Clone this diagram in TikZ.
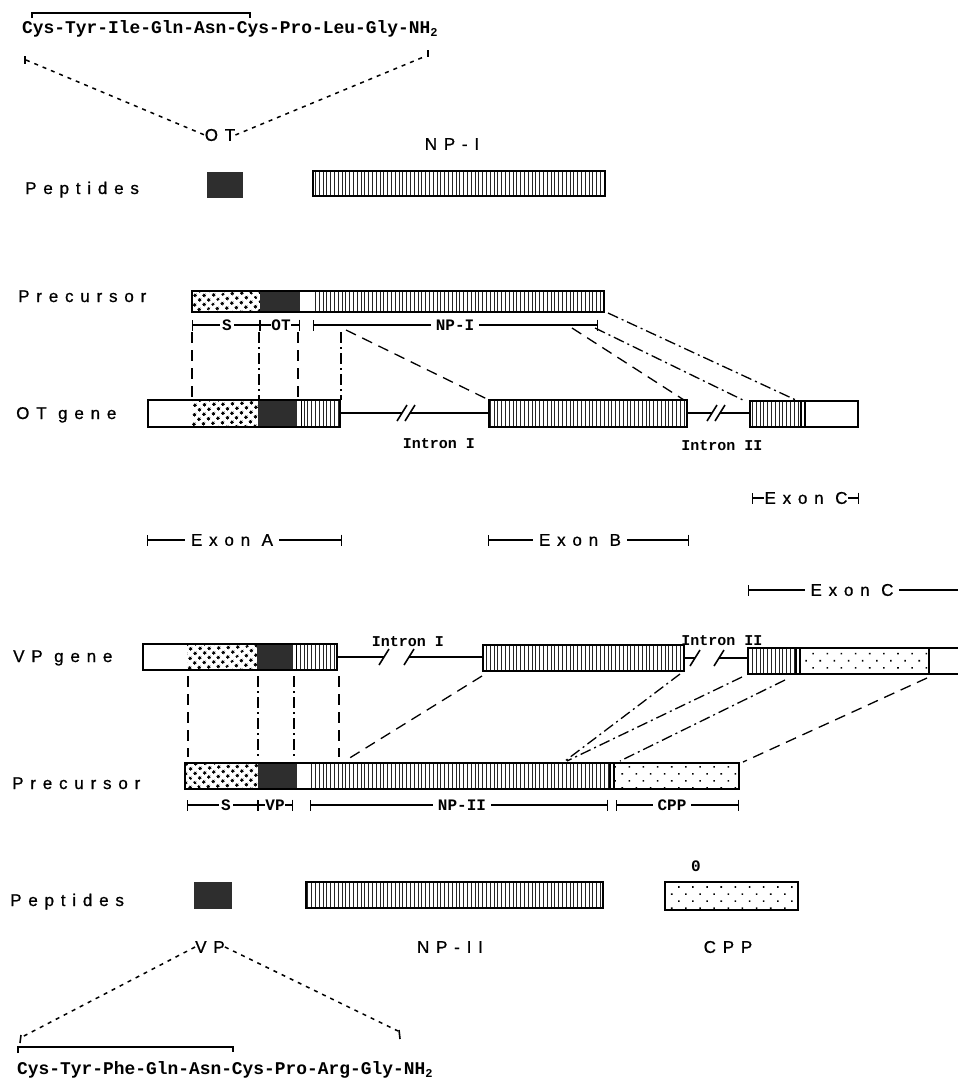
\documentclass[tikz,border=0pt]{standalone}
\usepackage{fontspec}
\setmainfont{Liberation Sans}
\newfontfamily\labfont[LetterSpace=40,FakeBold=0.8]{Liberation Sans}
\newfontfamily\ttb{Liberation Mono}
\usetikzlibrary{patterns.meta,arrows.meta}
\tikzset{
  bx/.style={draw=black,line width=1.9pt},
  hatchfill/.style={pattern={Lines[angle=90,distance=3.8pt,line width=0.9pt]},pattern color=black!85},
  sdotfill/.style={pattern={Dots[angle=45,distance=6.5pt,radius=1.8pt]},pattern color=black},
  cdotfill/.style={pattern={Dots[angle=45,distance=10pt,radius=1.1pt]},pattern color=black},
  darkfill/.style={fill=black!82},
  dotln/.style={line width=1.5pt,dash pattern=on 4pt off 5pt},
  dashln/.style={line width=1.3pt,dash pattern=on 11pt off 7pt},
  dashdotln/.style={line width=1.3pt,dash pattern=on 11pt off 4pt on 2pt off 4pt},
  spanln/.style={line width=1.4pt,{Bar[width=11pt,line width=1.4pt]}-{Bar[width=11pt,line width=1.4pt]}},
  rowlab/.style={font=\labfont\fontsize{17}{17}\selectfont,anchor=base west,inner sep=0pt},
  celab/.style={font=\labfont\fontsize{17}{17}\selectfont,inner sep=0pt},
  exlab/.style={font=\labfont\fontsize{17}{17}\selectfont,inner sep=6pt,fill=white},
  seqtxt/.style={font=\ttb\bfseries\fontsize{17.9}{18}\selectfont,anchor=base west,inner sep=0pt},
  smalltxt/.style={font=\ttb\bfseries\fontsize{16}{16}\selectfont,inner sep=2pt,fill=white},
  introntxt/.style={font=\ttb\bfseries\fontsize{15}{15}\selectfont,anchor=base,inner sep=0pt},
  hl/.style={line width=1.6pt},
}
\newcommand\brk[2]{\draw[line width=1.6pt] ({#1-5},{#2+8}) -- ({#1+5},{#2-8});}
\begin{document}
\begin{tikzpicture}[x=1pt,y=-1pt]
\fill[white] (0,0) rectangle (958,1085);
\useasboundingbox (0,0) rectangle (958,1085);

% ---------- top: OT sequence ----------
\node[seqtxt] (otseq) at (22,33) {Cys-Tyr-Ile-Gln-Asn-Cys-Pro-Leu-Gly-NH\raisebox{-3pt}{\fontsize{12}{12}\selectfont 2}};
\draw[hl] (32,18) -- (32,13) -- (250,13) -- (250,18);
\node[celab] (otlab) at (220,135) {OT};
\coordinate (tl) at (26,60);
\coordinate (tr) at (426,56);
\draw[hl] (25,56) -- (25,64);
\draw[hl] (428,50) -- (428,57);
\draw[dotln] (tl) -- (otlab.west);
\draw[dotln] (otlab.east) -- (tr);
\node[celab] (np1lab) at (452,144) {NP-I};

% ---------- OT peptides ----------
\node[rowlab] (pep1) at (25,194) {Peptides};
\fill[darkfill] (207,172) rectangle (243,198);
\path[hatchfill] (313,171) rectangle (605,196);
\draw[bx] (313,171) rectangle (605,196);

% ---------- OT precursor ----------
\node[rowlab] (prec1) at (18,302) {Precursor};
\path[sdotfill] (192,291) rectangle (260,312);
\fill[darkfill] (260,291) rectangle (300,312);
\path[hatchfill] (313,291) rectangle (604,312);
\draw[bx] (192,291) rectangle (604,312);
\draw[spanln] (192,325) -- (260,325);
\draw[spanln] (260,325) -- (300,325);
\draw[spanln] (313,325) -- (598,325);
\node[smalltxt] (s1) at (227,325) {S};
\node[smalltxt,inner sep=0.5pt] (ot1) at (281,325) {OT};
\node[smalltxt,inner sep=5pt] (np1) at (455,325) {NP-I};

% ---------- OT gene ----------
\node[rowlab] (otgene) at (16,419) {OT gene};
\path[sdotfill] (192,400) rectangle (258,427);
\fill[darkfill] (258,400) rectangle (297,427);
\path[hatchfill] (302,400) rectangle (340,427);
\draw[line width=1pt] (301,400) -- (301,427);
\draw[bx] (148,400) rectangle (340,427);
\draw[hl] (340,413) -- (402,413);
\draw[hl] (410,413) -- (489,413);
\brk{402}{413}\brk{410}{413}
\path[hatchfill] (489,400) rectangle (687,427);
\draw[bx] (489,400) rectangle (687,427);
\draw[hl] (687,413) -- (712,413);
\draw[hl] (720,413) -- (750,413);
\brk{712}{413}\brk{720}{413}
\path[hatchfill] (750,401) rectangle (801,427);
\draw[bx] (750,401) rectangle (858,427);
\draw[line width=1.2pt] (801,401) -- (801,427);
\draw[line width=1.2pt] (805,401) -- (805,427);
\node[introntxt] (int1a) at (439,448) {Intron I};
\node[introntxt] (int2a) at (722,450) {Intron II};

% precursor -> OT gene connectors
\coordinate (a1) at (192,332); \coordinate (b1) at (192,400);
\coordinate (a2) at (259,332); \coordinate (b2) at (259,400);
\coordinate (a3) at (298,332); \coordinate (b3) at (298,400);
\coordinate (a4) at (341,332); \coordinate (b4) at (341,400);
\draw[dashln] (a1) -- (b1);
\draw[dashdotln] (a2) -- (b2);
\draw[dashln] (a3) -- (b3);
\draw[dashdotln] (a4) -- (b4);
\coordinate (c1) at (346,330); \coordinate (d1) at (489,400);
\coordinate (c2) at (572,328); \coordinate (d2) at (684,400);
\coordinate (c3) at (595,328); \coordinate (d3) at (745,401);
\coordinate (c4) at (608,313); \coordinate (d4) at (798,401);
\draw[dashln] (c1) -- (d1);
\draw[dashln] (c2) -- (d2);
\draw[dashdotln] (c3) -- (d3);
\draw[dashdotln] (c4) -- (d4);

% ---------- exon labels ----------
\draw[spanln] (752,498) -- (859,498);
\node[celab,fill=white,inner sep=1pt] (exc1) at (806,498) {Exon C};
\draw[spanln] (147,540) -- (342,540);
\node[exlab] (exa) at (232,540) {Exon A};
\draw[spanln] (488,540) -- (689,540);
\node[exlab] (exb) at (580,540) {Exon B};
\draw[line width=1.4pt,{Bar[width=11pt,line width=1.4pt]}-] (748,590) -- (958,590);
\node[exlab] (exc2) at (852,590) {Exon C};

% ---------- VP gene ----------
\node[rowlab] (vpgene) at (13,662) {VP gene};
\path[sdotfill] (187,644) rectangle (257,670);
\fill[darkfill] (257,644) rectangle (293,670);
\path[hatchfill] (297,644) rectangle (337,670);
\draw[line width=1pt] (296,644) -- (296,670);
\draw[bx] (143,644) rectangle (337,670);
\draw[hl] (337,657) -- (384,657);
\draw[hl] (409,657) -- (483,657);
\brk{384}{657}\brk{409}{657}
\path[hatchfill] (483,645) rectangle (684,671);
\draw[bx] (483,645) rectangle (684,671);
\draw[hl] (684,658) -- (695,658);
\draw[hl] (719,658) -- (748,658);
\brk{695}{658}\brk{719}{658}
\path[hatchfill] (748,648) rectangle (796,674);
\path[cdotfill] (800,648) rectangle (929,674);
\draw[line width=1.2pt] (796,648) -- (796,674);
\draw[line width=1.2pt] (800,648) -- (800,674);
\draw[line width=1.2pt] (929,648) -- (929,674);
\draw[bx] (748,648) rectangle (964,674);
\node[introntxt] (int1b) at (408,646) {Intron I};
\node[introntxt] (int2b) at (722,645) {Intron II};

% ---------- VP precursor ----------
\node[rowlab] (prec2) at (12,789) {Precursor};
\path[sdotfill] (185,763) rectangle (258,789);
\fill[darkfill] (258,763) rectangle (297,789);
\path[hatchfill] (309,763) rectangle (610,789);
\path[cdotfill] (614,763) rectangle (739,789);
\draw[line width=1.2pt] (610,763) -- (610,789);
\draw[line width=1.2pt] (614,763) -- (614,789);
\draw[bx] (185,763) rectangle (739,789);
\draw[spanln] (187,805) -- (258,805);
\draw[spanln] (258,805) -- (293,805);
\draw[spanln] (310,805) -- (608,805);
\draw[spanln] (616,805) -- (739,805);
\node[smalltxt] (s2) at (226,805) {S};
\node[smalltxt,inner sep=0.5pt] (vp2) at (275,805) {VP};
\node[smalltxt,inner sep=5pt] (np2) at (462,805) {NP-II};
\node[smalltxt,inner sep=5pt] (cpp2) at (672,805) {CPP};

% VP gene -> precursor connectors
\coordinate (e1) at (188,676); \coordinate (f1) at (188,757);
\coordinate (e2) at (258,676); \coordinate (f2) at (258,757);
\coordinate (e3) at (294,676); \coordinate (f3) at (294,757);
\coordinate (e4) at (339,676); \coordinate (f4) at (339,757);
\draw[dashln] (e1) -- (f1);
\draw[dashdotln] (e2) -- (f2);
\draw[dashdotln] (e3) -- (f3);
\draw[dashln] (e4) -- (f4);
\coordinate (g1) at (482,676); \coordinate (h1) at (348,759);
\coordinate (g2) at (680,674); \coordinate (h2) at (565,761);
\coordinate (g3) at (742,677); \coordinate (h3) at (567,761);
\coordinate (g4) at (785,680); \coordinate (h4) at (620,761);
\coordinate (g5) at (927,678); \coordinate (h5) at (743,762);
\draw[dashln] (g1) -- (h1);
\draw[dashdotln] (g2) -- (h2);
\draw[dashdotln] (g3) -- (h3);
\draw[dashdotln] (g4) -- (h4);
\draw[dashln] (g5) -- (h5);

% ---------- VP peptides ----------
\node[rowlab] (pep2) at (10,906) {Peptides};
\fill[darkfill] (194,882) rectangle (232,909);
\path[hatchfill] (306,882) rectangle (603,908);
\draw[bx] (306,882) rectangle (603,908);
\path[cdotfill] (665,882) rectangle (798,910);
\draw[bx] (665,882) rectangle (798,910);
\node[font=\ttb\bfseries\fontsize{16}{16}\selectfont,inner sep=0pt] (zero) at (696,866) {0};
\node[celab] (vplab) at (210,947) {VP};
\node[celab] (np2lab) at (450,947) {NP-II};
\node[celab] (cpplab) at (728,947) {CPP};

% ---------- bottom: VP sequence ----------
\coordinate (bl) at (22,1037);
\coordinate (br) at (398,1031);
\draw[dotln] (vplab.west) -- (bl);
\draw[dotln] (vplab.east) -- (br);
\draw[hl] (21,1035) -- (20,1043);
\draw[hl] (399,1030) -- (400,1039);
\draw[hl] (18,1053) -- (18,1047) -- (233,1047) -- (233,1052);
\node[seqtxt] (vpseq) at (17,1074) {Cys-Tyr-Phe-Gln-Asn-Cys-Pro-Arg-Gly-NH\raisebox{-3pt}{\fontsize{12}{12}\selectfont 2}};
\end{tikzpicture}
\end{document}
